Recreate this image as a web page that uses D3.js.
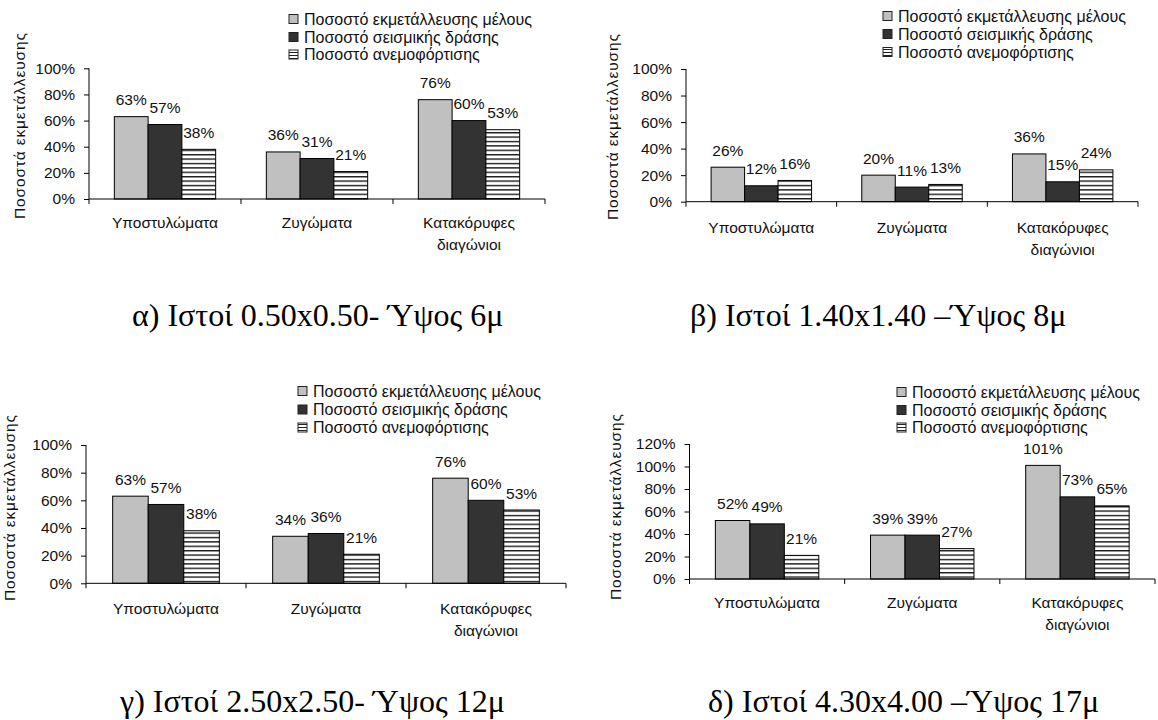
<!DOCTYPE html>
<html>
<head>
<meta charset="utf-8">
<script src="https://cdn.jsdelivr.net/npm/d3@7"></script>
<style>
  html, body { margin: 0; padding: 0; background: #ffffff; }
  svg { display: block; }
  text { font-family: "Liberation Sans", Arial, sans-serif; fill: #111; }
  .caption { font-family: "Liberation Serif", "Times New Roman", serif; fill: #000; }
</style>
</head>
<body>
<svg id="chart" width="1158" height="720"></svg>
<script>
// ---------------- DATA ----------------
const categories = ["Υποστυλώματα", "Ζυγώματα", "Κατακόρυφες διαγώνιοι"];
const seriesNames = ["Ποσοστό εκμετάλλευσης μέλους", "Ποσοστό σεισμικής δράσης", "Ποσοστό ανεμοφόρτισης"];
const yAxisTitle = "Ποσοστά εκμετάλλευσης";

// panel α
const memberA  = [63, 36, 76];
const seismicA = [57, 31, 60];
const windA    = [38, 21, 53];
// panel β
const memberB  = [26, 20, 36];
const seismicB = [12, 11, 15];
const windB    = [16, 13, 24];
// panel γ
const memberC  = [63, 34, 76];
const seismicC = [57, 36, 60];
const windC    = [38, 21, 53];
// panel δ
const memberD  = [52, 39, 101];
const seismicD = [49, 39, 73];
const windD    = [21, 27, 65];

const ticks100 = [0, 20, 40, 60, 80, 100];
const ticks120 = [0, 20, 40, 60, 80, 100, 120];

const captions = [
  "α) Ιστοί 0.50x0.50- Ύψος 6μ",
  "β) Ιστοί 1.40x1.40 –Ύψος 8μ",
  "γ) Ιστοί 2.50x2.50- Ύψος 12μ",
  "δ) Ιστοί 4.30x4.00 –Ύψος 17μ"
];

// ---------------- LAYOUT ----------------
const panels = [
  { series: [memberA, seismicA, windA], ticks: ticks100, ymax: 100,
    ax0: 89, ax1: 545, yTop: 68.3, yBot: 199,
    ylabX: 20, ylabY: 126, legX: 289, legY: [19, 37, 54.5],
    catDy: 29, capX: 132, capY: 326 },
  { series: [memberB, seismicB, windB], ticks: ticks100, ymax: 100,
    ax0: 686, ax1: 1138, yTop: 69, yBot: 201.7,
    ylabX: 613, ylabY: 127, legX: 883, legY: [16, 34, 52],
    catDy: 31, capX: 690, capY: 326 },
  { series: [memberC, seismicC, windC], ticks: ticks100, ymax: 100,
    ax0: 86, ax1: 566, yTop: 445, yBot: 583.3,
    ylabX: 10, ylabY: 508, legX: 298, legY: [391, 409.5, 427.5],
    catDy: 31, capX: 120, capY: 712 },
  { series: [memberD, seismicD, windD], ticks: ticks120, ymax: 120,
    ax0: 689.5, ax1: 1155, yTop: 444, yBot: 579,
    ylabX: 616, ylabY: 507, legX: 897, legY: [392, 410, 427.5],
    catDy: 29, capX: 708, capY: 712 }
];

const fills = ["#c0c0c0", "#333333", "url(#hstripe)"];

const svg = d3.select("#chart");

// stripe pattern
const defs = svg.append("defs");
const pat = defs.append("pattern")
  .attr("id", "hstripe")
  .attr("patternUnits", "userSpaceOnUse")
  .attr("width", 8).attr("height", 4.4);
pat.append("rect").attr("width", 8).attr("height", 4.4).attr("fill", "#ffffff");
pat.append("rect").attr("y", 0).attr("width", 8).attr("height", 1.4).attr("fill", "#1a1a1a");

const legPat = defs.append("pattern")
  .attr("id", "hstripeLeg")
  .attr("patternUnits", "userSpaceOnUse")
  .attr("width", 4).attr("height", 3);
legPat.append("rect").attr("width", 4).attr("height", 3).attr("fill", "#ffffff");
legPat.append("rect").attr("y", 1).attr("width", 4).attr("height", 1).attr("fill", "#222");

panels.forEach((p, pi) => {
  const g = svg.append("g");

  const y = d3.scaleLinear().domain([0, p.ymax]).range([p.yBot, p.yTop]);
  const x0 = d3.scaleBand().domain(categories).range([p.ax0, p.ax1])
    .paddingInner(1/3).paddingOuter(1/6);
  const x1 = d3.scaleBand().domain(d3.range(seriesNames.length)).range([0, x0.bandwidth()]);

  // bars
  categories.forEach((c, ci) => {
    p.series.forEach((vals, si) => {
      const v = vals[ci];
      const bx = x0(c) + x1(si);
      g.append("rect")
        .attr("x", bx).attr("y", y(v))
        .attr("width", x1.bandwidth()).attr("height", y(0) - y(v))
        .attr("fill", fills[si])
        .attr("stroke", "#000").attr("stroke-width", 1);
      g.append("text")
        .attr("x", bx + x1.bandwidth() / 2)
        .attr("y", y(v) - 11.5)
        .attr("text-anchor", "middle")
        .attr("font-size", 15.5)
        .text(v + "%");
    });
  });

  // y axis
  const yAxis = g.append("g")
    .attr("transform", `translate(${p.ax0},0)`)
    .call(d3.axisLeft(y).tickValues(p.ticks).tickFormat(d => d + "%").tickSize(5).tickPadding(9));
  yAxis.select(".domain").attr("stroke", "#000").attr("d", `M0,${p.yTop}V${p.yBot}`);
  yAxis.selectAll(".tick line").attr("stroke", "#000");
  yAxis.selectAll(".tick text").attr("font-size", 15.5)
    .attr("font-family", "Liberation Sans, Arial, sans-serif").attr("fill", "#111");

  // x axis line and boundary ticks
  const step = x0.step();
  const bounds = categories.map(c => x0(c) - step * x0.paddingInner() / 2);
  bounds.push(x0.range()[1]);
  g.append("line")
    .attr("x1", x0.range()[0]).attr("x2", x0.range()[1])
    .attr("y1", y(0)).attr("y2", y(0))
    .attr("stroke", "#000");
  bounds.forEach(bx => {
    g.append("line").attr("x1", bx).attr("x2", bx)
      .attr("y1", y(0)).attr("y2", y(0) + 5).attr("stroke", "#000");
  });

  // category labels
  categories.forEach(c => {
    const words = c.split(" ");
    const t = g.append("text")
      .attr("x", x0(c) + x0.bandwidth() / 2)
      .attr("y", y(0) + p.catDy)
      .attr("text-anchor", "middle")
      .attr("font-size", 15.5);
    words.forEach((w, wi) => {
      t.append("tspan")
        .attr("x", x0(c) + x0.bandwidth() / 2)
        .attr("dy", wi === 0 ? 0 : 22)
        .text(w);
    });
  });

  // y axis title
  g.append("text")
    .attr("transform", `translate(${p.ylabX},${p.ylabY}) rotate(-90)`)
    .attr("text-anchor", "middle")
    .attr("dy", "0.35em")
    .attr("font-size", 15.5)
    .attr("textLength", 186)
    .attr("lengthAdjust", "spacing")
    .text(yAxisTitle);

  // legend
  seriesNames.forEach((name, si) => {
    const ly = p.legY[si];
    g.append("rect")
      .attr("x", p.legX).attr("y", ly - 4.5)
      .attr("width", 9).attr("height", 9)
      .attr("fill", si === 2 ? "url(#hstripeLeg)" : fills[si])
      .attr("stroke", "#222").attr("stroke-width", 1);
    g.append("text")
      .attr("x", p.legX + 15).attr("y", ly)
      .attr("dy", "0.35em")
      .attr("font-size", 16)
      .text(name);
  });

  // caption
  svg.append("text")
    .attr("class", "caption")
    .attr("x", p.capX).attr("y", p.capY)
    .attr("font-size", 32)
    .text(captions[pi]);
});
</script>
</body>
</html>
